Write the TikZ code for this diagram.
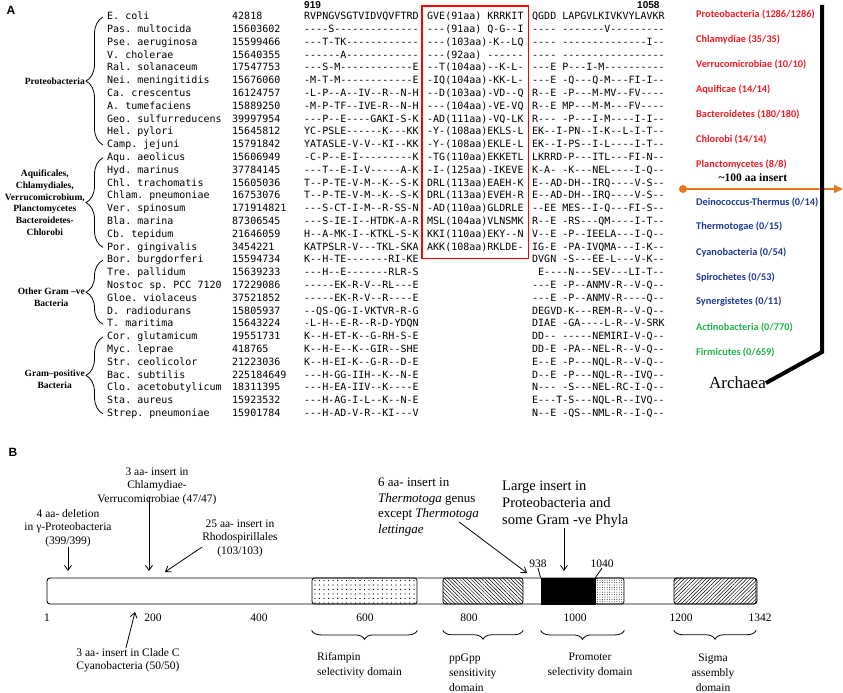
\documentclass[tikz,border=0pt]{standalone}
\usepackage{fontspec}
\setmainfont{Liberation Serif}
\setsansfont{Liberation Sans}
\setmonofont{DejaVu Sans Mono}
\newfontfamily\phylafont{Carlito}
\usetikzlibrary{arrows.meta,positioning,fit,calc,decorations.pathreplacing,patterns.meta}
\definecolor{phyred}{RGB}{237,28,36}
\definecolor{phyblue}{RGB}{31,56,150}
\definecolor{phygreen}{RGB}{34,177,76}
\definecolor{insorange}{RGB}{232,118,28}
\newcommand\seqgap{\hphantom{-}}
\tikzset{
  panel/.style={font=\sffamily\bfseries\fontsize{12}{14}\selectfont,inner sep=0pt},
  posnum/.style={font=\sffamily\bfseries\fontsize{10}{12}\selectfont,inner sep=0pt},
  seq/.style={anchor=west,inner sep=0pt,font=\fontsize{10}{12}\ttfamily,text height=7.5pt,text depth=2pt},
  insbox/.style={draw=red,line width=1.3pt,inner xsep=5pt,inner ysep=6pt},
  grp/.style={font=\fontsize{9.5}{11.8}\selectfont\bfseries,align=center,inner sep=0pt,anchor=east},
  grpbrace/.style={decorate,decoration={brace,amplitude=17pt},line width=0.8pt},
  phylum/.style={anchor=west,inner sep=0pt,font=\fontsize{10.3}{12}\phylafont\bfseries},
  note/.style={font=\fontsize{11.5}{13.5}\selectfont,align=center,inner sep=0pt},
  pointer/.style={-{Straight Barb[length=5pt,width=7pt]},line width=0.8pt},
  domainbox/.style={draw,rounded corners=2.5pt,minimum height=26pt,inner sep=0pt,line width=0.8pt},
  dombrace/.style={decorate,decoration={brace,amplitude=9pt},line width=0.8pt},
  domtext/.style={font=\fontsize{11.5}{15}\selectfont,inner sep=0pt},
  scalenum/.style={font=\fontsize{11.5}{13}\selectfont,inner sep=0pt}
}
\begin{document}
\frenchspacing
\begin{tikzpicture}[x=1pt,y=-1pt]
\useasboundingbox (0,0) rectangle (843,693);
\node[panel] (panelA) at (11,10) {A};
\node[posnum,anchor=west] (n919) at (304,5) {919};
\node[posnum,anchor=west] (n1058) at (637,5) {1058};
% alignment
\foreach \nm/\gid/\segA/\segC [count=\i from 0] in {
  E. coli/42818/RVPNGVSGTVIDVQVFTRD/QGDD\seqgap LAPGVLKIVKVYLAVKR,
  Pas. multocida/15603602/----S--------------/----\seqgap -------V---------,
  Pse. aeruginosa/15599466/---T-TK------------/----\seqgap --------------I--,
  V. cholerae/15640355/------A------------/----\seqgap -----------------,
  Ral. solanaceum/17547753/---S-M------------E/---E\seqgap P---I-M----------,
  Nei. meningitidis/15676060/-M-T-M------------E/---E\seqgap -Q---Q-M---FI-I--,
  Ca. crescentus/16124757/-L-P--A--IV--R--N-H/R--E\seqgap -P---M-MV--FV----,
  A. tumefaciens/15889250/-M-P-TF--IVE-R--N-H/R--E\seqgap MP---M-M---FV----,
  Geo. sulfurreducens/39997954/---P--E----GAKI-S-K/R---\seqgap -P---I-M----I-I--,
  Hel. pylori/15645812/YC-PSLE------K---KK/EK--I-PN--I-K--L-I-T--,
  Camp. jejuni/15791842/YATASLE-V-V--KI--KK/EK--I-PS--I-L----I-T--,
  Aqu. aeolicus/15606949/-C-P--E-I---------K/LKRRD-P---ITL---FI-N--,
  Hyd. marinus/37784145/---T--E-I-V-----A-K/K-A-\seqgap -K---NEL----I-Q--,
  Chl. trachomatis/15605036/T--P-TE-V-M--K--S-K/E--AD-DH--IRQ----V-S--,
  Chlam. pneumoniae/16753076/T--P-TE-V-M--K--S-K/E--AD-DH--IRQ----V-S--,
  Ver. spinosum/171914821/---S-CT-I-M--R-SS-N/--EE\seqgap MES--I-Q---FI-S--,
  Bla. marina/87306545/---S-IE-I--HTDK-A-R/R--E\seqgap -RS---QM----I-T--,
  Cb. tepidum/21646059/H--A-MK-I--KTKL-S-K/V--E\seqgap -P--IEELA---I-Q--,
  Por. gingivalis/3454221/KATPSLR-V---TKL-SKA/IG-E\seqgap -PA-IVQMA---I-K--,
  Bor. burgdorferi/15594734/K--H-TE-------RI-KE/DVGN\seqgap -S---EE-L---V-K--,
  Tre. pallidum/15639233/---H--E-------RLR-S/\seqgap E----N---SEV---LI-T--,
  Nostoc sp. PCC 7120/17229086/-----EK-R-V--RL---E/---E\seqgap -P--ANMV-R--V-Q--,
  Gloe. violaceus/37521852/-----EK-R-V--R----E/---E\seqgap -P--ANMV-R----Q--,
  D. radiodurans/15805937/--QS-QG-I-VKTVR-R-G/DEGVD-K---REM-R--V-Q--,
  T. maritima/15643224/-L-H--E-R--R-D-YDQN/DIAE\seqgap -GA----L-R--V-SRK,
  Cor. glutamicum/19551731/K--H-ET-K--G-RH-S-E/DD--\seqgap -----NEMIRI-V-Q--,
  Myc. leprae/418765/K--H-E--K--GIR--SHE/DD-E\seqgap -PA--NEL-R--V-Q--,
  Str. ceolicolor/21223036/K--H-EI-K--G-R--D-E/E--E\seqgap -P---NQL-R--V-Q--,
  Bac. subtilis/225184649/---H-GG-IIH--K--N-E/D--E\seqgap -P---NQL-R--IVQ--,
  Clo. acetobutylicum/18311395/---H-EA-IIV--K----E/N---\seqgap -S---NEL-RC-I-Q--,
  Sta. aureus/15923532/---H-AG-I-L--K--N-E/E---T-S---NQL-R--IVQ--,
  Strep. pneumoniae/15901784/---H-AD-V-R--KI---V/N--E\seqgap -QS--NML-R--I-Q--}{
  \pgfmathsetmacro\ry{17+12.8*\i}
  \node[seq] (sp\i) at (107,\ry) {\nm};
  \node[seq] (gi\i) at (232,\ry) {\gid};
  \node[seq] (sa\i) at (304,\ry) {\segA};
  \node[seq] (sc\i) at (532,\ry) {\segC};
}
\foreach \segB [count=\i from 0] in {
  GVE(91aa)\seqgap KRRKIT, ---(91aa)\seqgap Q-G--I, ---(103aa)-K--LQ,
  ---(92aa)\seqgap ------, --T(104aa)--K-L-, -IQ(104aa)-KK-L-,
  --D(103aa)-VD--Q, ---(104aa)-VE-VQ, -AD(111aa)-VQ-LK,
  -Y-(108aa)EKLS-L, -Y-(108aa)EKLE-L, -TG(110aa)EKKETL,
  -I-(125aa)-IKEVE, DRL(113aa)EAEH-K, DRL(113aa)EVEH-R,
  -AD(110aa)GLDRLE, MSL(104aa)VLNSMK, KKI(110aa)EKY--N,
  AKK(108aa)RKLDE-}{
  \pgfmathsetmacro\ry{17+12.8*\i}
  \node[seq] (ins\i) at (427,\ry) {\segB};
}
\node[insbox,fit=(ins0)(ins18)] (insframe) {};
% groups
\draw[grpbrace] ([xshift=-4pt]sp10.west) -- ([xshift=-4pt]sp0.west);
\draw[grpbrace] ([xshift=-4pt]sp18.west) -- ([xshift=-4pt]sp11.west);
\draw[grpbrace] ([xshift=-4pt]sp24.west) -- ([xshift=-4pt]sp19.west);
\draw[grpbrace] ([xshift=-4pt]sp31.west) -- ([xshift=-4pt]sp25.west);
\coordinate (tipP) at ($(sp0.west)!.5!(sp10.west)+(-22pt,0pt)$);
\coordinate (tipA) at ($(sp11.west)!.5!(sp18.west)+(-22pt,0pt)$);
\coordinate (tipO) at ($(sp19.west)!.5!(sp24.west)+(-22pt,0pt)$);
\coordinate (tipG) at ($(sp25.west)!.5!(sp31.west)+(-22pt,0pt)$);
\node[grp] (gProteo) at (tipP) {Proteobacteria};
\node[grp] (gAqu) at (tipA) {Aquificales,\\Chlamydiales,\\Verrucomicrobium,\\Planctomycetes\\Bacteroidetes-\\Chlorobi};
\node[grp] (gOther) at ([yshift=-5pt]tipO) {Other Gram –ve\\Bacteria};
\node[grp] (gPos) at ([yshift=-4pt]tipG) {Gram–positive\\Bacteria};
% phyla with / without the insert
\foreach \ph [count=\j from 0] in {Proteobacteria (1286/1286), Chlamydiae (35/35),
  Verrucomicrobiae (10/10), Aquificae (14/14), Bacteroidetes (180/180),
  Chlorobi (14/14), Planctomycetes (8/8)}
  \node[phylum,text=phyred] (phR\j) at (696,{14+25*\j}) {\ph};
\foreach \ph [count=\j from 0] in {Deinococcus-Thermus (0/14), Thermotogae (0/15),
  Cyanobacteria (0/54), Spirochetes (0/53), Synergistetes (0/11)}
  \node[phylum,text=phyblue] (phB\j) at (696,{202+25*\j}) {\ph};
\foreach \ph [count=\j from 0] in {Actinobacteria (0/770), Firmicutes (0/659)}
  \node[phylum,text=phygreen] (phG\j) at (696,{327+25*\j}) {\ph};
\node[circle,fill=insorange,inner sep=0pt,minimum size=8pt] (insdot) at (683,189) {};
\coordinate (insend) at (843,189);
\draw[insorange,line width=2.2pt,-{Triangle[length=9pt,width=8pt]}] (insdot) -- (insend);
\node[font=\fontsize{11.5}{13}\selectfont\bfseries,inner sep=0pt] (inslabel) at (753,178) {\textasciitilde100 aa insert};
\node[font=\fontsize{17}{19}\selectfont,inner sep=0pt,anchor=east] (archaea) at (766,383) {Archaea};
\coordinate (treetop) at (822,5);
\coordinate (treebend) at (822,352);
\draw[line width=4pt] (treetop) -- (treebend) -- (archaea.east);
% panel B
\node[panel] (panelB) at (13,452) {B};
\node[draw,rounded corners=3pt,minimum width=710pt,minimum height=26pt,inner sep=0pt,line width=0.9pt] (bar) at (402,591) {};
\node[domainbox,minimum width=105pt,pattern={Dots[distance=4.5pt,radius=0.6pt]}] (rif) at (364.5,591) {};
\node[domainbox,minimum width=80pt,pattern={Lines[angle=-45,distance=2.6pt,line width=0.5pt]}] (ppg) at (483,591) {};
\node[domainbox,rounded corners=0pt,fill=black,minimum width=54pt] (pro) at (568,591) {};
\node[domainbox,minimum width=29pt,pattern={Dots[distance=2.4pt,radius=0.45pt]}] (prodots) at (609.5,591) {};
\node[domainbox,minimum width=82pt,pattern={Lines[angle=45,distance=2.6pt,line width=0.5pt]}] (sig) at (715,591) {};
\foreach \p/\xx in {1/47,200/153,400/259,600/365,800/469,1000/575,1200/681,1342/760}
  \node[scalenum] (tick\p) at (\xx,618) {\p};
\node[scalenum] (n938) at (538,564) {938};
\node[scalenum] (n1040) at (602,564) {1040};
\draw[line width=0.8pt] (n938.south) -- (pro.north west);
\draw[line width=0.8pt] (n1040.south) -- (pro.north east);
% domain braces
\draw[dombrace] ([yshift=-26pt]rif.south east) -- ([yshift=-26pt]rif.south west);
\draw[dombrace] ([yshift=-26pt]ppg.south east) -- ([yshift=-26pt]ppg.south west);
\draw[dombrace] ([yshift=-26pt]prodots.south east) -- ([yshift=-26pt]pro.south west |- prodots.south);
\draw[dombrace] ([yshift=-26pt]sig.south east) -- ([yshift=-26pt]sig.south west);
\node[domtext,align=left,anchor=west] (riftext) at (317,665) {Rifampin\\selectivity domain};
\node[domtext,align=left,anchor=west] (ppgtext) at (449,673) {ppGpp\\sensitivity\\domain};
\node[domtext,align=center] (protext) at (590,665) {Promoter\\selectivity domain};
\node[domtext,align=center] (sigtext) at (713,673) {Sigma\\assembly\\domain};
% inserts and deletions
\node[note] (gdel) at (68,528) {4 aa- deletion\\in γ-Proteobacteria\\(399/399)};
\coordinate (gdelpt) at (68,571);
\draw[pointer] (gdel) -- (gdelpt);
\node[note] (chlver) at (157,486) {3 aa- insert in\\Chlamydiae-\\Verrucomicrobiae (47/47)};
\coordinate (chlverpt) at (149,571);
\draw[pointer] ([xshift=-8pt,yshift=8pt]chlver.south) -- (chlverpt);
\node[note] (rhodo) at (240,538) {25 aa- insert in\\Rhodospirillales\\(103/103)};
\coordinate (rhodopt) at (165,572);
\draw[pointer] ([yshift=-9pt]rhodo.west) -- (rhodopt);
\node[note] (clade) at (128,660) {3 aa- insert in Clade C\\Cyanobacteria (50/50)};
\coordinate (cladept) at (135,612);
\draw[pointer] ([xshift=-2pt]clade.north) -- (cladept);
\node[note,font=\fontsize{13}{15.7}\selectfont,align=left,anchor=west] (thermo) at (378,507) {6 aa- insert in\\\textit{Thermotoga} genus\\except \textit{Thermotoga}\\\textit{lettingae}};
\coordinate (thermopt) at (527,573);
\draw[pointer] ([xshift=-20pt,yshift=-15pt]thermo.east) -- (thermopt);
\node[note,font=\fontsize{14.5}{17}\selectfont,align=left,anchor=west] (large) at (502,504) {Large insert in\\Proteobacteria and\\some Gram -ve Phyla};
\coordinate (largept) at (564,571);
\draw[pointer] (large.south -| largept) -- (largept);
\end{tikzpicture}
\end{document}
